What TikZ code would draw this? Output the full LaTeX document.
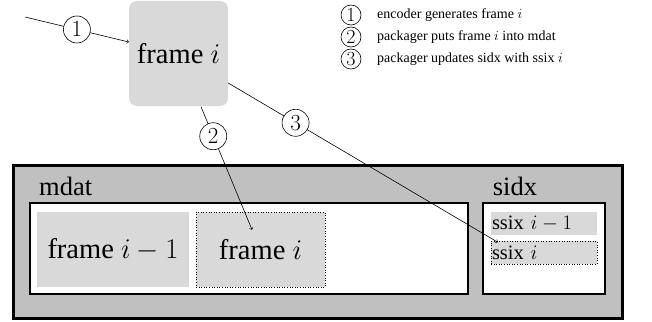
\documentclass[tikz,border=0pt]{standalone}
\usepackage{fix-cm}
\usepackage[no-math]{fontspec}
\setmainfont{Liberation Serif}
\usetikzlibrary{calc}
\definecolor{outergray}{RGB}{192,192,192}
\definecolor{boxgray}{RGB}{217,217,217}
\tikzset{
  bigtxt/.style={font=\fontsize{28.5}{30}\selectfont},
  lbltxt/.style={font=\fontsize{26.5}{28}\selectfont},
  midtxt/.style={font=\fontsize{20.5}{22}\selectfont},
  framebox/.style={fill=boxgray, draw=none, inner sep=0pt, bigtxt},
  newbox/.style={fill=boxgray, draw=black, dotted, line width=0.6pt, inner sep=0pt},
  innerbox/.style={fill=white, draw=black, line width=1.5pt, inner sep=0pt},
  stepnum/.style={circle, draw=black, fill=white, solid, line width=0.6pt, inner sep=0pt, minimum size=27pt, font=\fontsize{23}{23}\selectfont},
  legnum/.style={circle, draw=black, fill=white, line width=0.6pt, inner sep=0pt, minimum size=20pt, font=\fontsize{20}{20}\selectfont},
  legtxt/.style={anchor=west, inner sep=0pt, font=\fontsize{14}{16}\selectfont},
  conn/.style={->, line width=0.6pt}
}
\begin{document}
\begin{tikzpicture}[x=1pt,y=-1pt]
\useasboundingbox (0,0) rectangle (652,321);
% outer container
\node[draw=black, fill=outergray, line width=3pt, minimum width=609pt, minimum height=153pt, inner sep=0pt] (outer) at (317.5,241.5) {};
\node[anchor=west, inner sep=0pt, lbltxt] (mdatlbl) at (39,186) {mdat};
\node[inner sep=0pt, lbltxt] (sidxlbl) at (515,186) {sidx};
% inner boxes
\node[innerbox, minimum width=438pt, minimum height=91pt] (mdat) at (249,248.5) {};
\node[innerbox, minimum width=122pt, minimum height=91pt] (sidx) at (544,248.5) {};
% frames in mdat
\node[framebox, minimum width=152pt, minimum height=75pt] (fprev) at (113,249.5) {frame $i-1$};
\node[newbox, minimum width=129pt, minimum height=75pt, bigtxt] (fnew) at (260.5,249.5) {frame $i$};
% ssix entries
\node[fill=boxgray, draw=none, minimum width=106pt, minimum height=23pt, inner sep=1pt, midtxt, align=left, text width=104pt] (sprev) at (544,223.5) {ssix $i-1$};
\node[newbox, minimum width=106pt, minimum height=23pt, inner sep=1pt, midtxt, align=left, text width=104pt] (snew) at (544,252.5) {ssix $i$};
% top frame
\node[framebox, rounded corners=8pt, minimum width=99pt, minimum height=105pt] (ftop) at (178.5,53.5) {frame $i$};
% connectors
\coordinate (src) at (25,17);
\draw[conn] (src) -- node[stepnum, pos=0.5] (n1) {$1$} ($(ftop.west)+(0,-11.5)$);
\draw[conn] ($(ftop.south)+(22.5,0.5)$) -- node[stepnum, pos=0.24] (n2) {$2$} ($(fnew.north)+(-8.5,18)$);
\draw[conn] ($(ftop.east)+(0,29.5)$) -- node[stepnum, pos=0.25] (n3) {$3$} ($(snew.north west)+(7,1.5)$);
% legend
\node[legnum] (l1) at (351,15) {$1$};
\node[legnum] (l2) at (351,37) {$2$};
\node[legnum] (l3) at (351,59) {$3$};
\node[legtxt] (t1) at (377,15) {encoder generates frame $i$};
\node[legtxt] (t2) at (377,37) {packager puts frame $i$ into mdat};
\node[legtxt] (t3) at (377,59) {packager updates sidx with ssix $i$};
\end{tikzpicture}
\end{document}
